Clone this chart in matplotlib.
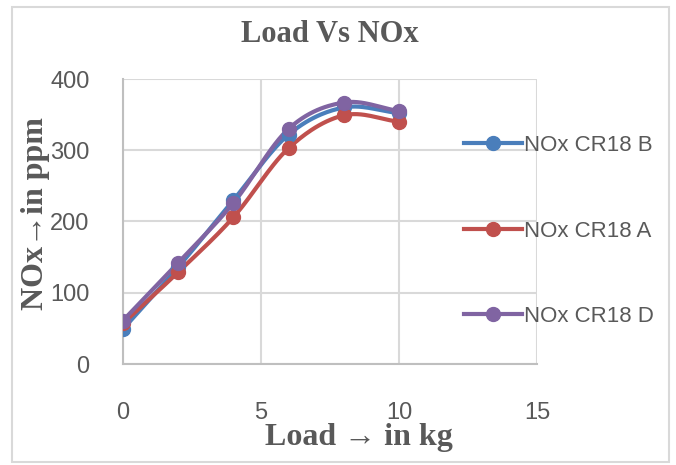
import numpy as np
import matplotlib
matplotlib.use("Agg")
import matplotlib.pyplot as plt
from matplotlib.patches import Rectangle

load = [0, 2, 4, 6, 8, 10]
nox_b = [49, 136, 230, 322, 360, 352]
nox_a = [57, 129, 206, 303, 349, 340]
nox_d = [61, 142, 226, 330, 367, 355]
series_labels = ["NOx CR18 B", "NOx CR18 A", "NOx CR18 D"]
colors = ["#4A7EBB", "#C0504D", "#8064A2"]
x_ticks = [0, 5, 10, 15]
y_ticks = [0, 100, 200, 300, 400]


def smooth(x, y, n=30):
    x = np.asarray(x, float)
    y = np.asarray(y, float)
    px = np.concatenate([[2 * x[0] - x[1]], x, [2 * x[-1] - x[-2]]])
    py = np.concatenate([[2 * y[0] - y[1]], y, [2 * y[-1] - y[-2]]])
    xs, ys = [], []
    t = np.linspace(0, 1, n)
    for i in range(1, len(px) - 2):
        p0, p1, p2, p3 = [np.array([px[j], py[j]]) for j in range(i - 1, i + 3)]
        c1 = p1 + (p2 - p0) / 6
        c2 = p2 - (p3 - p1) / 6
        b = ((1 - t) ** 3)[:, None] * p1 + (3 * (1 - t) ** 2 * t)[:, None] * c1 \
            + (3 * (1 - t) * t ** 2)[:, None] * c2 + (t ** 3)[:, None] * p2
        xs.append(b[:, 0])
        ys.append(b[:, 1])
    return np.concatenate(xs), np.concatenate(ys)


sans = ["Liberation Sans", "DejaVu Sans"]
serif = ["Liberation Serif", "DejaVu Serif", "DejaVu Sans"]
gray = "#595959"

fig = plt.figure(figsize=(6.76, 4.65), dpi=100)
fig.patches.append(Rectangle((12 / 676, 1 - 462 / 465), 657 / 676, 455 / 465,
                             transform=fig.transFigure, fill=False,
                             edgecolor="#d9d9d9", lw=1.5))
ax = fig.add_axes([123 / 676, 1 - 364 / 465, (537 - 123) / 676, (364 - 79) / 465])

for ys, lab, c in zip([nox_b, nox_a, nox_d], series_labels, colors):
    sx, sy = smooth(load, ys)
    ax.plot(sx, sy, color=c, lw=3, solid_capstyle="round", zorder=3)
    ax.plot(load, ys, "o", color=c, ms=10, zorder=4)
    ax.plot([], [], "-o", color=c, lw=3, ms=10, label=lab)

ax.set_xlim(0, 15)
ax.set_ylim(0, 400)
ax.set_xticks(x_ticks)
ax.set_yticks(y_ticks)
ax.grid(True, color="#d9d9d9", lw=1.5)
ax.set_axisbelow(True)
for s in ["top", "right"]:
    ax.spines[s].set_visible(False)
for s in ["left", "bottom"]:
    ax.spines[s].set_color("#bfbfbf")
    ax.spines[s].set_linewidth(1.5)
ax.tick_params(length=0, colors=gray, labelsize=17)
ax.tick_params(axis="x", pad=27)
ax.tick_params(axis="y", pad=24)
for t in ax.get_xticklabels() + ax.get_yticklabels():
    t.set_family(sans)

fig.text(330 / 676, 1 - 35 / 465, "Load Vs NOx", ha="center", va="center",
         family=serif, fontweight="bold", fontsize=22, color=gray)
fig.text(359 / 676, 1 - 437 / 465, "Load \u2192 in kg", ha="center", va="center",
         family=serif, fontweight="bold", fontsize=23, color=gray)
fig.text(36 / 676, 1 - 214 / 465, "NOx\u2192in ppm", ha="center", va="center",
         rotation=90, family=serif, fontweight="bold", fontsize=23, color=gray)

leg = fig.legend(loc="center left", bbox_to_anchor=(444 / 676, 1 - 231 / 465),
                 frameon=False, prop={"family": sans, "size": 16},
                 labelspacing=2.9, handlelength=2.6, handletextpad=0.1,
                 labelcolor=gray)

fig.savefig("out.png", dpi=100)
